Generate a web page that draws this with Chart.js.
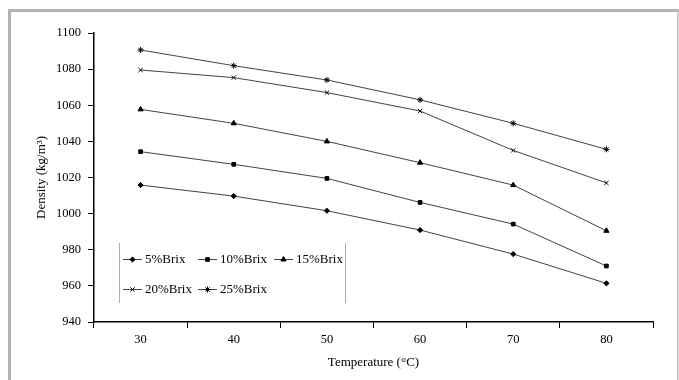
<!DOCTYPE html>
<html>
<head>
<meta charset="utf-8">
<script src="https://cdn.jsdelivr.net/npm/chart.js"></script>
<style>
  body { margin: 0; background: #fff; }
  #wrap { width: 679px; height: 380px; }
</style>
</head>
<body>
<div id="wrap"><canvas id="chart" width="679" height="380"></canvas></div>
<script>
const temps = ['30', '40', '50', '60', '70', '80'];
const brix5 = [1015.8, 1009.7, 1001.6, 990.9, 977.6, 961.4];
const brix10 = [1034.3, 1027.3, 1019.5, 1006.2, 994.2, 971.0];
const brix15 = [1057.7, 1050.0, 1040.0, 1028.2, 1015.8, 990.5];
const brix20 = [1079.5, 1075.3, 1067.0, 1056.8, 1035.0, 1017.0];
const brix25 = [1090.6, 1081.9, 1074.0, 1063.0, 1050.0, 1035.6];
const seriesNames = ['5%Brix', '10%Brix', '15%Brix', '20%Brix', '25%Brix'];
const yTicks = [940, 960, 980, 1000, 1020, 1040, 1060, 1080, 1100];

const serif = "'Liberation Serif', 'DejaVu Serif', serif";
const markers = ['rectRot', 'rect', 'triangle', 'crossRot', 'star'];
const markerSize = [2.6, 2.6, 3, 3, 3];

function makeSet(i, values) {
    return {
        label: seriesNames[i],
        data: values,
        borderColor: '#444',
        borderWidth: 1,
        pointStyle: markers[i],
        pointRadius: markerSize[i],
        pointBackgroundColor: '#000',
        pointBorderColor: '#000',
        pointBorderWidth: 1,
        tension: 0
    };
}

// grey frame round the picture
const framePlugin = {
    id: 'frame',
    beforeDraw(chart) {
        const ctx = chart.ctx;
        ctx.save();
        ctx.fillStyle = '#fff';
        ctx.fillRect(0, 0, chart.width, chart.height);
        ctx.fillStyle = '#b3b3b3';
        ctx.fillRect(8, 9, 671, 3);
        ctx.fillRect(8, 9, 3, 371);
        ctx.fillStyle = '#bdbdbd';
        ctx.fillRect(677, 9, 1.5, 371);
        ctx.restore();
    }
};

// legend box inside the plot
const legendPlugin = {
    id: 'innerLegend',
    afterDraw(chart) {
        const ctx = chart.ctx;
        ctx.save();
        ctx.strokeStyle = '#aaa';
        ctx.lineWidth = 1;
        ctx.beginPath();
        ctx.moveTo(119.5, 243); ctx.lineTo(119.5, 303);
        ctx.moveTo(345.5, 243); ctx.lineTo(345.5, 303);
        ctx.stroke();

        const cols = [123, 198, 274];
        const rows = [259, 289];
        ctx.font = '13px ' + serif;
        ctx.textBaseline = 'middle';
        ctx.fillStyle = '#000';
        chart.data.datasets.forEach((ds, i) => {
            const x = cols[i % 3];
            const y = rows[Math.floor(i / 3)];
            ctx.strokeStyle = '#444';
            ctx.beginPath();
            ctx.moveTo(x, y + 0.5); ctx.lineTo(x + 19, y + 0.5);
            ctx.stroke();
            ctx.fillStyle = '#000';
            ctx.strokeStyle = '#000';
            Chart.helpers.drawPoint(ctx, {
                pointStyle: ds.pointStyle,
                radius: ds.pointRadius,
                rotation: 0,
                borderWidth: 1
            }, x + 9.5, y + 0.5);
            ctx.fillText(ds.label, x + 22, y + 1);
        });
        ctx.restore();
    }
};

new Chart(document.getElementById('chart'), {
    type: 'line',
    data: {
        labels: temps,
        datasets: [
            makeSet(0, brix5),
            makeSet(1, brix10),
            makeSet(2, brix15),
            makeSet(3, brix20),
            makeSet(4, brix25)
        ]
    },
    options: {
        responsive: false,
        animation: false,
        layout: { padding: { top: 33, right: 26, left: 0, bottom: 0 } },
        scales: {
            x: {
                offset: true,
                grid: {
                    offset: true,
                    drawOnChartArea: false,
                    drawTicks: true,
                    tickLength: 6,
                    color: '#000'
                },
                border: { display: true, color: '#000', width: 1.5 },
                ticks: { color: '#000', font: { family: serif, size: 12.5 }, padding: 4, maxRotation: 0 },
                title: {
                    display: true,
                    text: 'Temperature (°C)',
                    color: '#000',
                    font: { family: serif, size: 13 },
                    padding: { top: 0, bottom: 10 }
                },
                afterFit(scale) { scale.height = 58; }
            },
            y: {
                min: 940,
                max: 1100,
                afterBuildTicks(scale) { scale.ticks = yTicks.map(v => ({ value: v })); },
                grid: {
                    drawOnChartArea: false,
                    drawTicks: true,
                    tickLength: 6,
                    color: '#000'
                },
                border: { display: true, color: '#000', width: 1.5 },
                ticks: {
                    color: '#000',
                    font: { family: serif, size: 12.5 },
                    padding: 7,
                    callback: v => String(v)
                },
                title: {
                    display: true,
                    text: 'Density (kg/m³)',
                    color: '#000',
                    font: { family: serif, size: 13 },
                    padding: { top: 34, bottom: 0 }
                },
                afterFit(scale) { scale.width = 94; }
            }
        },
        plugins: {
            legend: { display: false },
            tooltip: { enabled: false }
        }
    },
    plugins: [framePlugin, legendPlugin]
});
</script>
</body>
</html>
